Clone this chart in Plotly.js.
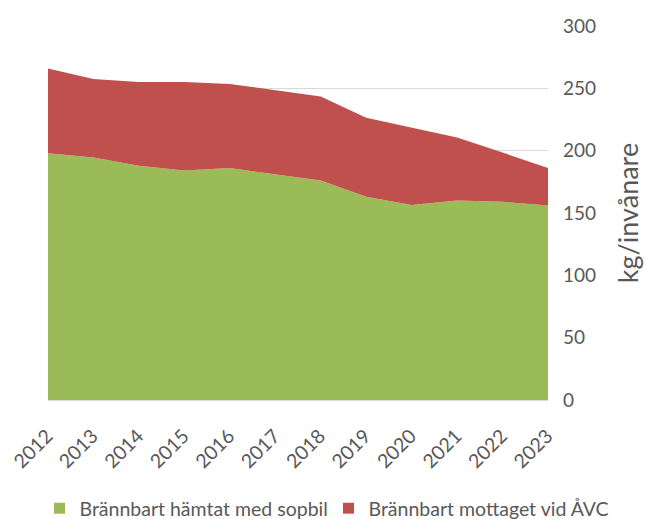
<!DOCTYPE html>
<html>
<head>
<meta charset="utf-8">
<script src="https://cdn.plot.ly/plotly-3.0.1.min.js"></script>
<style>html,body{margin:0;padding:0;background:#fff;}#chart{width:646px;height:519px;}</style>
</head>
<body>
<div id="chart"></div>
<script>
const years = ["2012","2013","2014","2015","2016","2017","2018","2019","2020","2021","2022","2023"];
const hamtatSopbil = [198, 194.5, 188, 184, 186, 181, 176, 163, 156.5, 160, 159, 156];
const mottagetAVC = [68, 63, 67, 71, 67.5, 67.5, 67.5, 63.5, 62.3, 50.5, 39.5, 30];
const seriesNames = ["Brännbart hämtat med sopbil", "Brännbart mottaget vid ÅVC"];
const seriesColors = ["#9BBB59", "#C0504D"];
const yTitle = "kg/invånare";

const font = "Lato, 'Open Sans', sans-serif";
const traces = [
  {x: years, y: hamtatSopbil, name: seriesNames[0], type: "scatter", mode: "lines",
   stackgroup: "one", line: {width: 0, color: seriesColors[0]}, fillcolor: seriesColors[0], showlegend: false},
  {x: years, y: mottagetAVC, name: seriesNames[1], type: "scatter", mode: "lines",
   stackgroup: "one", line: {width: 0, color: seriesColors[1]}, fillcolor: seriesColors[1], showlegend: false},
  // legend keys (square swatches)
  {x: [null], y: [null], name: seriesNames[0], type: "scatter", mode: "markers", legendwidth: 244,
   marker: {symbol: "square", size: 11, color: seriesColors[0]}, showlegend: true},
  {x: [null], y: [null], name: seriesNames[1], type: "scatter", mode: "markers", legendwidth: 256,
   marker: {symbol: "square", size: 11, color: seriesColors[1]}, showlegend: true}
];
const layout = {
  width: 646, height: 519,
  margin: {l: 48, r: 98, t: 26, b: 119, autoexpand: false},
  paper_bgcolor: "#fff", plot_bgcolor: "#fff",
  font: {family: font, color: "#595959"},
  showlegend: true,
  legend: {orientation: "h", xref: "paper", yref: "paper", x: 1.163, xanchor: "right",
           y: -0.29, yanchor: "middle", entrywidthmode: "pixels",
           font: {size: 19.5, color: "#595959", family: font}, traceorder: "normal",
           itemwidth: 30, tracegroupgap: 0},
  xaxis: {type: "category", range: [0, 11], tickangle: -45, showgrid: false,
          showline: true, linecolor: "#d9d9d9", linewidth: 1, ticks: "",
          ticklabelshift: -1, ticklabelstandoff: 16,
          tickfont: {size: 19.5, color: "#595959", family: font}, zeroline: false},
  yaxis: {side: "right", range: [0, 300], dtick: 50, showgrid: true, gridcolor: "#d9d9d9",
          gridwidth: 1, zeroline: false, showline: false, ticks: "",
          ticklabelstandoff: 14,
          tickfont: {size: 19, color: "#595959", family: font},
          title: {text: yTitle, font: {size: 27, color: "#595959", family: font}, standoff: 24}}
};
Plotly.newPlot("chart", traces, layout, {displayModeBar: false, staticPlot: true});
</script>
</body>
</html>
